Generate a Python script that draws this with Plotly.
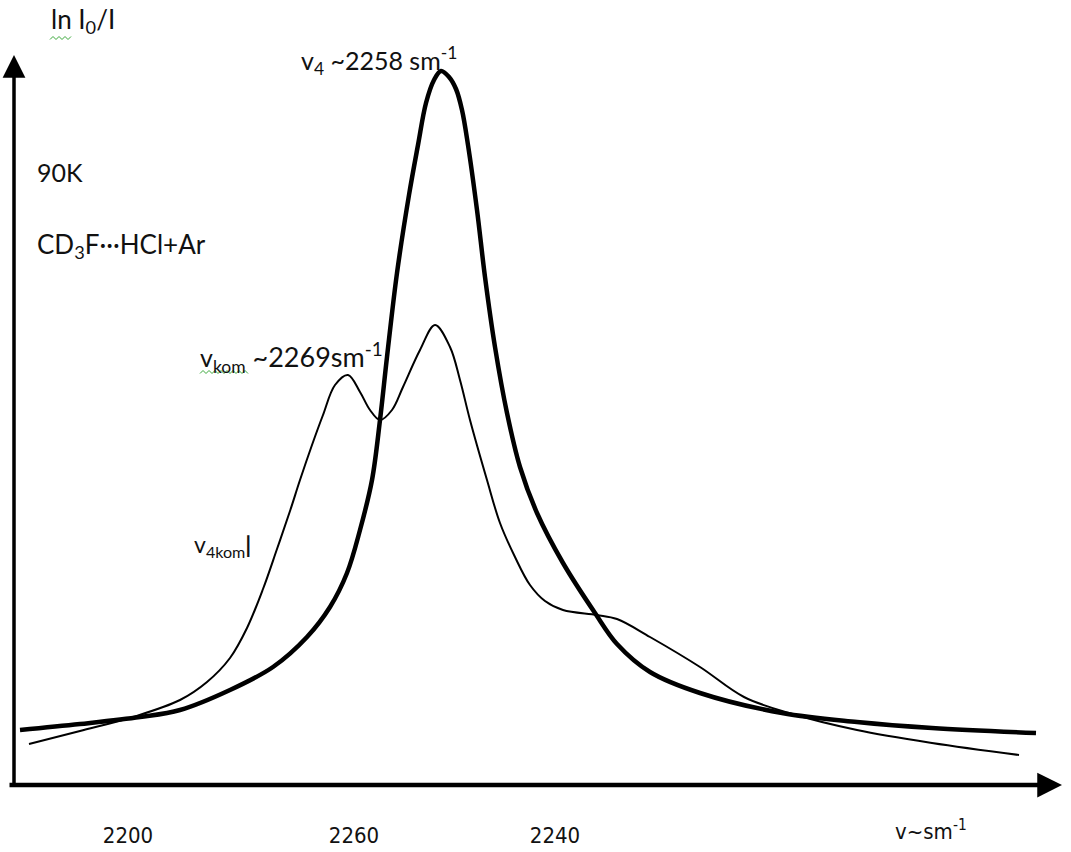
import plotly.graph_objects as go

# ---- data (x: position along wavenumber axis, y: ln I0/I above baseline) ----
v4_x = [20, 80, 140, 180, 230, 273, 307, 330, 347, 360, 372, 380, 387, 397, 409, 418, 426, 434, 441,
        449, 456, 462, 468, 477, 485, 495, 507, 520, 537, 563, 595, 617, 650, 700, 782, 857, 932, 1036]
v4_y = [55, 61, 68, 75, 95, 118, 148, 178, 212, 255, 305, 365, 428, 512, 590, 640, 682, 705, 714,
        708, 696, 675, 640, 575, 508, 438, 372, 318, 272, 222, 172, 141, 113, 92, 72, 63, 57, 52]

kom_x = [29, 80, 133, 180, 207, 230, 247, 263, 277, 290, 300, 312, 323, 335, 348, 360, 370, 380, 392,
         403, 420, 435, 450, 460, 470, 487, 500, 515, 530, 545, 563, 597, 617, 650, 700, 744, 789, 857, 932, 1019]
kom_y = [41, 54, 68, 85, 103, 127, 157, 196, 236, 274, 305, 340, 370, 400, 410, 393, 375, 365, 375,
         398, 435, 460, 438, 405, 365, 305, 262, 228, 200, 184, 175, 170, 166, 148, 118, 88, 72, 55, 42, 30]

tick_pos = [128, 354, 555]
tick_text = ["2200", "2260", "2240"]

FONT = "Lato, 'Open Sans', sans-serif"
TICKFONT = "'Liberation Sans Narrow', 'DejaVu Sans Condensed', sans-serif"
INK = "#111111"

fig = go.Figure()
fig.add_trace(go.Scatter(x=v4_x, y=v4_y, mode="lines",
                         line=dict(color="black", width=4.5, shape="spline", smoothing=1.0),
                         hoverinfo="skip", showlegend=False))
fig.add_trace(go.Scatter(x=kom_x, y=kom_y, mode="lines",
                         line=dict(color="black", width=2, shape="spline", smoothing=1.0),
                         hoverinfo="skip", showlegend=False))

# axes drawn as arrows
fig.add_annotation(x=1062, y=0, ax=8, ay=0, xref="x", yref="y", axref="x", ayref="y",
                   showarrow=True, arrowhead=2, arrowsize=1.1, arrowwidth=4.5, arrowcolor="black", text="")
fig.add_annotation(x=14, y=730, ax=14, ay=-2, xref="x", yref="y", axref="x", ayref="y",
                   showarrow=True, arrowhead=2, arrowsize=1.3, arrowwidth=3.5, arrowcolor="black", text="")

texts = [
    (49, 765, "ln I<sub>0</sub>/I", 26),
    (299, 725, "v<sub>4</sub> ~2258 sm<sup>-1</sup>", 25),
    (35, 613, "90K", 25),
    (35, 540, "CD<sub>3</sub>F···HCl+Ar", 26),
    (198, 428, "<span style='font-size:25px'>v<sub>kom</sub></span> ~2269sm<sup>-1</sup>", 27),
    (192, 240, "v<sub>4kom</sub><b>|</b>", 23),
]
for x, y, t, s in texts:
    fig.add_annotation(x=x, y=y, xref="x", yref="y", text=t, showarrow=False, xanchor="left", yanchor="middle",
                       font=dict(family=FONT, size=s, color=INK))
fig.add_annotation(x=893, y=-0.012, xref="x", yref="paper", text="v~sm<sup>-1</sup>", showarrow=False,
                   xanchor="left", yanchor="middle", font=dict(family=TICKFONT, size=22, color=INK))

# spell-check style green wavy underlines
def squiggle(x0, x1, y):
    pts = []
    x = x0
    k = 0
    while x <= x1:
        pts.append(f"{x},{y + (1.5 if k % 2 else -1.5)}")
        x += 3
        k += 1
    return "M" + " L".join(pts)

for x0, x1, y in [(50, 72, 747), (200, 250, 413)]:
    fig.add_shape(type="path", path=squiggle(x0, x1, y), xref="x", yref="y",
                  line=dict(color="#3aa83a", width=1))

fig.update_layout(
    width=1071, height=852, margin=dict(l=0, r=0, t=0, b=32),
    paper_bgcolor="white", plot_bgcolor="white",
    xaxis=dict(range=[0, 1071], showgrid=False, zeroline=False, showline=False,
               tickmode="array", tickvals=tick_pos, ticktext=tick_text, ticks="",
               tickfont=dict(family=TICKFONT, size=22, color=INK)),
    yaxis=dict(range=[-35, 785], showgrid=False, zeroline=False, showline=False, showticklabels=False),
)

fig.write_html("out.html", post_script="document.body.style.margin='0';",
               config={"displayModeBar": False})
